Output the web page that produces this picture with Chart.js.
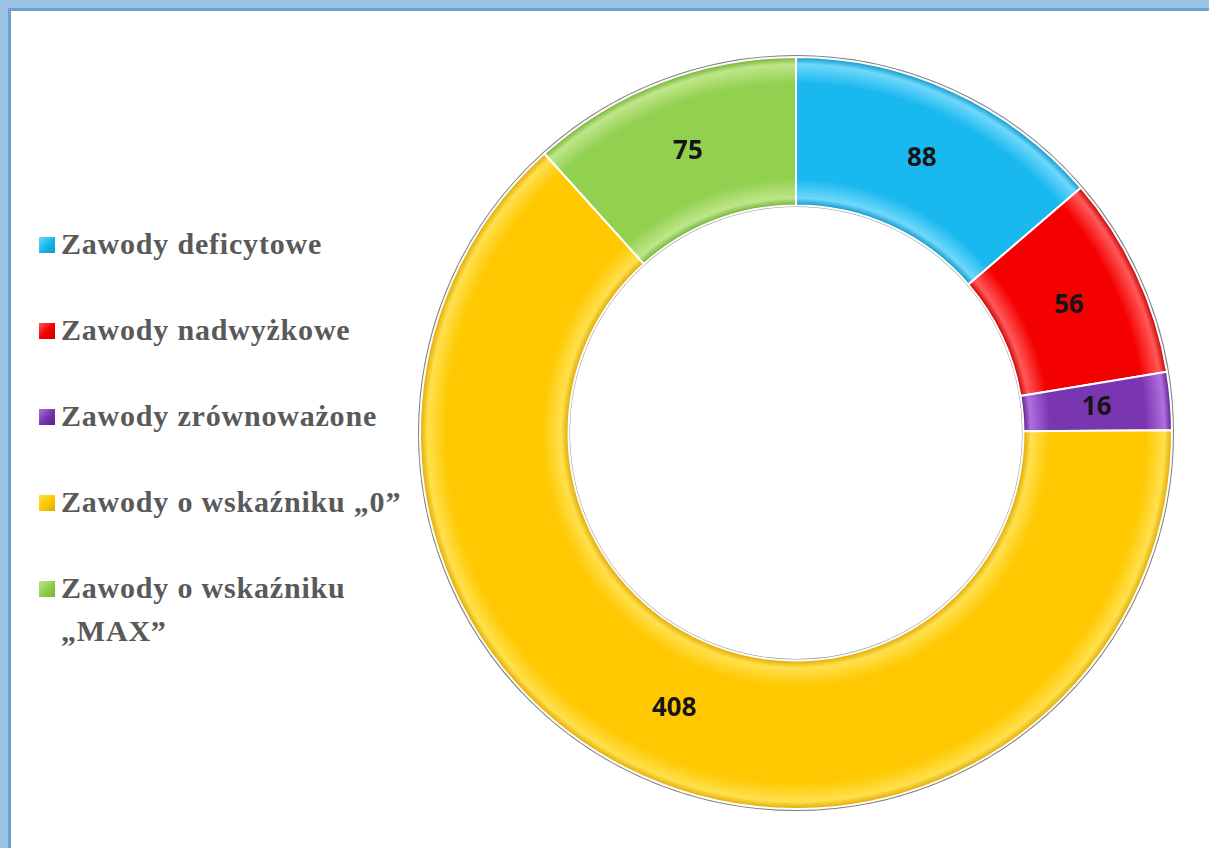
<!DOCTYPE html>
<html lang="pl">
<head>
    <meta charset="UTF-8">
    <title>Zawody</title>
    <script src="https://cdn.jsdelivr.net/npm/chart.js"></script>
    <style>
        body {
            margin: 0;
            width: 1209px;
            height: 848px;
            overflow: hidden;
            background: #fff;
        }
        .frame {
            position: absolute;
            left: 0; top: 0; right: 0; bottom: 0;
            border-top: 8px solid #9dc3e6;
            border-left: 8px solid #9dc3e6;
        }
        .frame-inner {
            position: absolute;
            left: 0; top: 0; right: 0; bottom: 0;
            border-top: 3px solid #6f9fd2;
            border-left: 3px solid #6f9fd2;
            background: #fff;
        }
        #legend {
            position: absolute;
            left: 39px;
            top: 222px;
            width: 380px;
            font-family: "Liberation Serif", "Times New Roman", serif;
            font-weight: bold;
            font-size: 30px;
            letter-spacing: 0.8px;
            line-height: 43px;
            color: #595959;
        }
        #legend .item {
            display: flex;
            align-items: flex-start;
            margin-bottom: 43px;
        }
        #legend .box {
            flex: none;
            width: 16px;
            height: 16px;
            margin-top: 15px;
            margin-right: 6px;
        }
        .chart-box {
            position: absolute;
            left: 415px;
            top: 52px;
            width: 762px;
            height: 762px;
        }
    </style>
</head>
<body>
    <div class="frame"><div class="frame-inner"></div></div>
    <div id="legend"></div>
    <div class="chart-box">
        <canvas id="donutChart"></canvas>
    </div>

    <script>
        // dane
        const categories = ['Zawody deficytowe', 'Zawody nadwyżkowe', 'Zawody zrównoważone', 'Zawody o wskaźniku „0”', 'Zawody o wskaźniku „MAX”'];
        const counts = [88, 56, 16, 408, 75];

        // kolory: bazowy, jasny (krawędź), ciemny
        const colors = ['#19b8ef', '#f50000', '#7a35b0', '#ffc800', '#92d050'];
        const lightColors = ['#6fd8fb', '#ff5a5a', '#b070e0', '#ffe04d', '#bfe68a'];
        const darkColors = ['#0d95c8', '#c80000', '#5a2088', '#e0a800', '#72b030'];

        // legenda HTML
        const legendEl = document.getElementById('legend');
        categories.forEach((name, i) => {
            const item = document.createElement('div');
            item.className = 'item';
            const box = document.createElement('span');
            box.className = 'box';
            box.style.background = 'linear-gradient(135deg, ' + lightColors[i] + ' 0%, ' + colors[i] + ' 50%, ' + darkColors[i] + ' 100%)';
            const txt = document.createElement('span');
            txt.textContent = name;
            item.appendChild(box);
            item.appendChild(txt);
            legendEl.appendChild(item);
        });

        // gradient promieniowy imitujący wypukłość
        function ringGradient(context) {
            const chart = context.chart;
            const i = context.dataIndex;
            const area = chart.chartArea;
            const ctrl = chart.getDatasetMeta(0).controller;
            if (!area || !ctrl || !ctrl.outerRadius) return colors[i];
            const x = (area.left + area.right) / 2;
            const y = (area.top + area.bottom) / 2;
            const rIn = ctrl.innerRadius, rOut = ctrl.outerRadius;
            const g = chart.ctx.createRadialGradient(x, y, rIn, x, y, rOut);
            g.addColorStop(0, darkColors[i]);
            g.addColorStop(0.05, lightColors[i]);
            g.addColorStop(0.18, colors[i]);
            g.addColorStop(0.82, colors[i]);
            g.addColorStop(0.95, lightColors[i]);
            g.addColorStop(1, darkColors[i]);
            return g;
        }

        // obrys pierścienia i etykiety wartości
        const ringDecor = {
            id: 'ringDecor',
            beforeDatasetsDraw(chart) {
                const arc = chart.getDatasetMeta(0).data[0];
                if (!arc) return;
                const ctx = chart.ctx;
                ctx.save();
                ctx.strokeStyle = '#7f7f7f';
                ctx.lineWidth = 3;
                ctx.beginPath();
                ctx.arc(arc.x, arc.y, arc.outerRadius + 0.5, 0, Math.PI * 2);
                ctx.stroke();
                ctx.strokeStyle = '#9a9a9a';
                ctx.lineWidth = 2;
                ctx.beginPath();
                ctx.arc(arc.x, arc.y, arc.innerRadius - 0.5, 0, Math.PI * 2);
                ctx.stroke();
                ctx.restore();
            },
            afterDatasetsDraw(chart) {
                const ctx = chart.ctx;
                const meta = chart.getDatasetMeta(0);
                ctx.save();
                ctx.font = 'bold 26px "Open Sans", sans-serif';
                ctx.fillStyle = '#151515';
                ctx.textAlign = 'center';
                ctx.textBaseline = 'middle';
                meta.data.forEach((el, i) => {
                    const p = el.tooltipPosition();
                    ctx.fillText(String(counts[i]), p.x, p.y);
                });
                ctx.restore();
            }
        };

        const ctx = document.getElementById('donutChart').getContext('2d');
        new Chart(ctx, {
            type: 'doughnut',
            data: {
                labels: categories,
                datasets: [{
                    data: counts,
                    backgroundColor: ringGradient,
                    borderColor: '#ffffff',
                    borderWidth: 2
                }]
            },
            options: {
                responsive: true,
                maintainAspectRatio: false,
                animation: false,
                cutout: '60.5%',
                layout: { padding: 4 },
                plugins: {
                    legend: { display: false },
                    tooltip: { enabled: false }
                }
            },
            plugins: [ringDecor]
        });
    </script>
</body>
</html>
